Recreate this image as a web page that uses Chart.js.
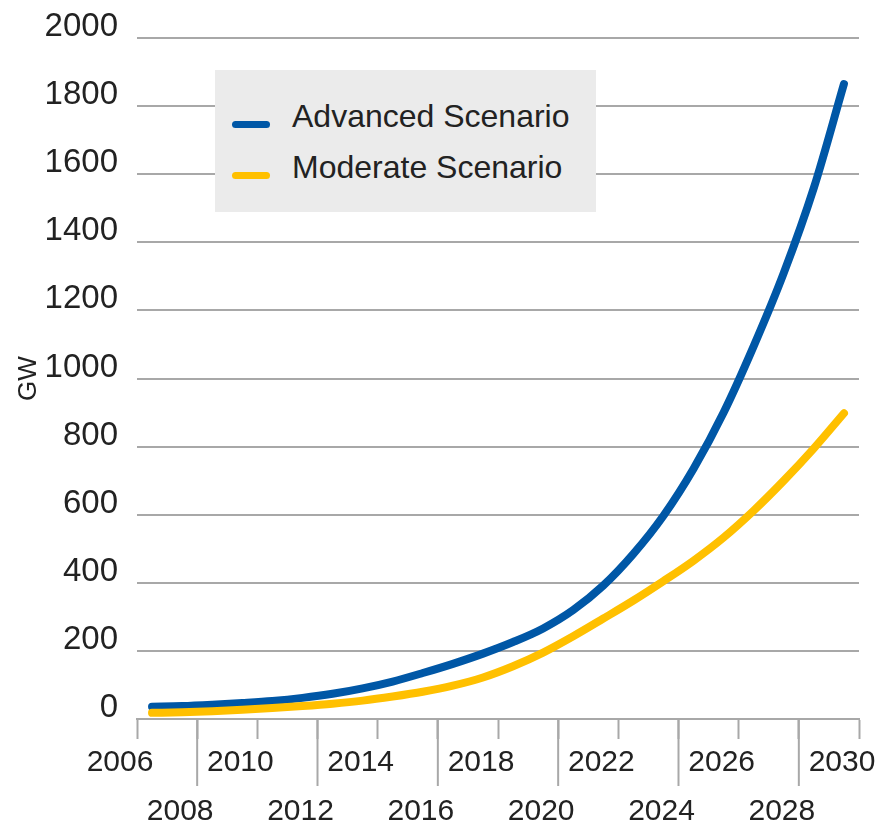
<!DOCTYPE html>
<html>
<head>
<meta charset="utf-8">
<script src="https://cdn.jsdelivr.net/npm/chart.js@4/dist/chart.umd.min.js"></script>
<style>
  body { margin: 0; background: #fff; }
  #wrap { position: relative; width: 880px; height: 826px; }
  #legend {
    position: absolute; left: 215px; top: 70px; width: 381px; height: 142px;
    background: #ebebeb; font-family: "Liberation Sans", Arial, sans-serif;
    font-size: 32px; line-height: 32px; color: #222;
  }
  #legend .row { position: absolute; left: 0; height: 32px; white-space: nowrap; }
  #legend .swatch { position: absolute; left: 17px; top: 21px; width: 38px; height: 7px; border-radius: 4px; }
  #legend .text { position: absolute; left: 77px; top: 0; }
</style>
</head>
<body>
<div id="wrap">
  <canvas id="lineChart"></canvas>
  <div id="legend"></div>
</div>
<script>
// years (values are plotted at mid-year)
var years = [2007, 2008, 2009, 2010, 2011, 2012, 2013, 2014, 2015, 2016, 2017, 2018,
             2019, 2020, 2021, 2022, 2023, 2024, 2025, 2026, 2027, 2028, 2029, 2030];

// GW
var advanced = [36, 38, 42, 47, 53, 62, 74, 90, 110, 135, 162, 192,
                226, 266, 320, 392, 485, 597, 735, 900, 1095, 1310, 1560, 1865];
var moderate = [18, 20, 23, 27, 32, 38, 45, 54, 66, 80, 98, 122,
                155, 195, 243, 295, 348, 405, 465, 533, 612, 700, 795, 898];

var xTicks = [2006, 2008, 2010, 2012, 2014, 2016, 2018, 2020, 2022, 2024, 2026, 2028, 2030];
var yTicks = [0, 200, 400, 600, 800, 1000, 1200, 1400, 1600, 1800, 2000];

var gridColor = '#a8a8a8';
var textColor = '#222';
var fontFamily = '"Liberation Sans", Arial, sans-serif';

// long ticks under the second row of year labels
var longTicks = {
    id: 'longTicks',
    afterDraw: function (chart) {
        var x = chart.scales.x;
        var ctx = chart.ctx;
        ctx.save();
        ctx.strokeStyle = gridColor;
        ctx.lineWidth = 2;
        xTicks.forEach(function (v, i) {
            if (i % 2 === 1) {
                var px = x.getPixelForValue(v);
                ctx.beginPath();
                ctx.moveTo(px, chart.chartArea.bottom);
                ctx.lineTo(px, chart.chartArea.bottom + 67);
                ctx.stroke();
            }
        });
        ctx.restore();
    }
};

var datasets = [
    {
        label: 'Advanced Scenario',
        borderColor: '#0057a6',
        order: 1,
        data: years.map((y, i) => ({ x: y - 0.5, y: advanced[i] }))
    },
    {
        label: 'Moderate Scenario',
        borderColor: '#ffc000',
        order: 0,
        data: years.map((y, i) => ({ x: y - 0.5, y: moderate[i] }))
    }
];
datasets.forEach(function (d) {
    d.borderWidth = 8;
    d.borderCapStyle = 'round';
    d.borderJoinStyle = 'round';
    d.pointRadius = 0;
    d.fill = false;
    d.cubicInterpolationMode = 'monotone';
});

var ctx = document.getElementById('lineChart').getContext('2d');
var linechart = new Chart(ctx, {
    type: 'line',
    data: { datasets: datasets },
    options: {
        responsive: true,
        maintainAspectRatio: false,
        animation: false,
        events: [],
        layout: { padding: { top: 38, right: 21, left: 0, bottom: 0 } },
        plugins: { legend: { display: false }, tooltip: { enabled: false } },
        scales: {
            x: {
                type: 'linear',
                min: 2006,
                max: 2030,
                afterBuildTicks: function (scale) {
                    scale.ticks = xTicks.map(v => ({ value: v }));
                },
                afterFit: function (scale) {
                    scale.height = 107;
                    scale.paddingLeft = 0;
                    scale.paddingRight = 0;
                },
                grid: {
                    drawOnChartArea: false,
                    drawTicks: true,
                    tickLength: 20,
                    tickColor: gridColor,
                    tickWidth: 2
                },
                border: { display: true, color: gridColor, width: 2 },
                ticks: {
                    autoSkip: false,
                    maxRotation: 0,
                    minRotation: 0,
                    padding: -1,
                    labelOffset: -17,
                    color: textColor,
                    font: { family: fontFamily, size: 30, lineHeight: 49 / 30 },
                    callback: function (v) {
                        var i = xTicks.indexOf(v);
                        return i % 2 === 0 ? [String(v), ''] : ['', String(v)];
                    }
                }
            },
            y: {
                min: 0,
                max: 2000,
                afterBuildTicks: function (scale) {
                    scale.ticks = yTicks.map(v => ({ value: v }));
                },
                afterFit: function (scale) {
                    scale.width = 137;
                    scale.paddingTop = 0;
                    scale.paddingBottom = 0;
                },
                grid: { color: gridColor, lineWidth: 2, drawTicks: false },
                border: { display: false },
                ticks: {
                    padding: 19,
                    labelOffset: -11,
                    color: textColor,
                    font: { family: fontFamily, size: 33 },
                    callback: function (v) { return String(v); }
                },
                title: {
                    display: true,
                    text: 'GW',
                    color: textColor,
                    font: { family: fontFamily, size: 26 },
                    padding: { top: 13, bottom: 0 }
                }
            }
        }
    },
    plugins: [longTicks]
});

// legend box built from the datasets
var legend = document.getElementById('legend');
var rowTops = [30, 81];
linechart.data.datasets.forEach(function (d, i) {
    var row = document.createElement('div');
    row.className = 'row';
    row.style.top = rowTops[i] + 'px';
    var sw = document.createElement('span');
    sw.className = 'swatch';
    sw.style.background = d.borderColor;
    var tx = document.createElement('span');
    tx.className = 'text';
    tx.textContent = d.label;
    row.appendChild(sw);
    row.appendChild(tx);
    legend.appendChild(row);
});
</script>
</body>
</html>
